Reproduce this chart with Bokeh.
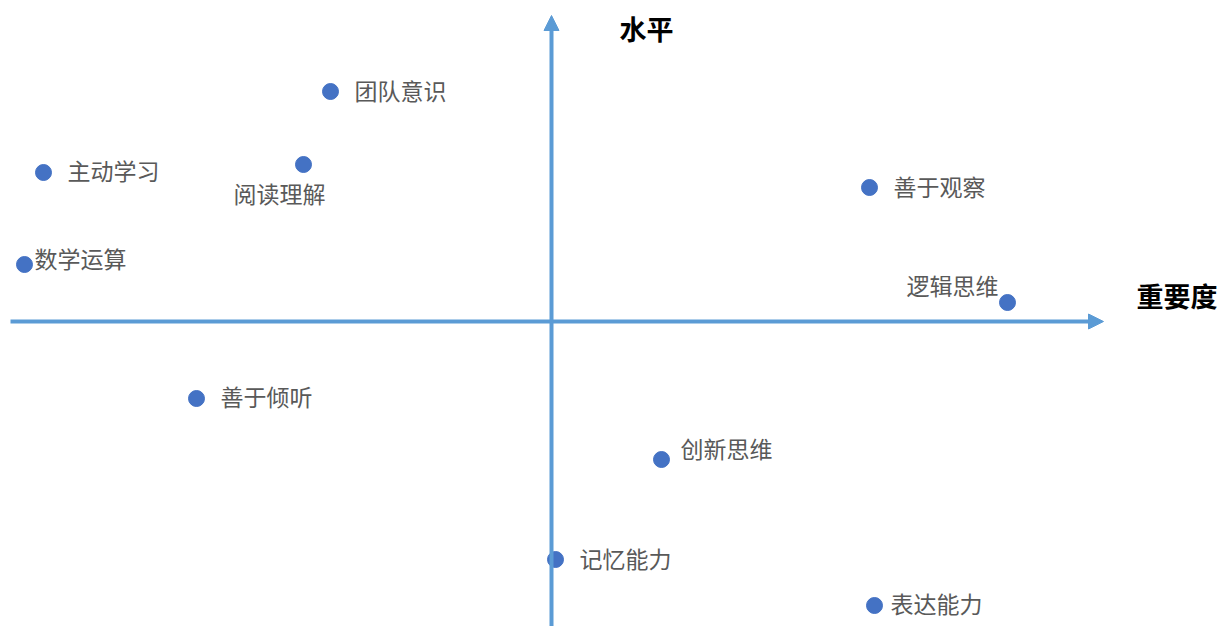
from bokeh.plotting import figure
from bokeh.models import ColumnDataSource, Arrow, NormalHead, Label
from bokeh.core.properties import value
from bokeh.embed import file_html
from bokeh.resources import INLINE

# Data
skills = ["团队意识", "主动学习", "阅读理解", "数学运算", "善于观察",
          "逻辑思维", "善于倾听", "创新思维", "记忆能力", "表达能力"]
importance = [-2.21, -5.08, -2.48, -5.27, 3.18, 4.56, -3.55, 1.10, 0.04, 3.23]
level = [2.30, 1.49, 1.57, 0.57, 1.34, 0.19, -0.77, -1.38, -2.38, -2.84]
x_title = "重要度"
y_title = "水平"

# label placement (style)
dx = [24, 24, -70, 10, 24, -101, 24, 19, 24, 16]
dy = [-2, -3, 28, -7, -2, -18, -3, -12, -2, -3]

W, H = 1221, 626
x0, x1 = -5.51, 6.70
y0, y1 = -3.05, 3.21

p = figure(width=W, height=H, x_range=(x0, x1), y_range=(y0, y1),
           output_backend="svg", toolbar_location=None,
           x_axis_type=None, y_axis_type=None, min_border=0)
p.grid.visible = False
p.outline_line_color = None
p.background_fill_color = "white"
p.border_fill_color = "white"

axis_color = "#5B9BD5"
p.add_layout(Arrow(end=NormalHead(size=15, fill_color=axis_color, line_color=axis_color),
                   x_start=-5.41, y_start=0, x_end=5.52, y_end=0,
                   line_color=axis_color, line_width=4))
p.add_layout(Arrow(end=NormalHead(size=15, fill_color=axis_color, line_color=axis_color),
                   x_start=0, y_start=y0, x_end=0, y_end=3.06,
                   line_color=axis_color, line_width=4))

src = ColumnDataSource(dict(x=importance, y=level, name=skills, dx=dx, dy=dy))
p.scatter("x", "y", source=src, size=16, color="#4472C4", line_color="#4472C4")
p.text("x", "y", text="name", source=src, x_offset="dx", y_offset="dy",
       text_font=value("Noto Sans CJK SC"), text_font_size="23px",
       text_color="#595959", text_baseline="middle", text_align="left")

p.add_layout(Label(x=0.68, y=2.93, text=y_title, text_font="Noto Sans CJK SC",
                   text_font_size="27px", text_font_style="bold", text_color="black",
                   text_baseline="middle"))
p.add_layout(Label(x=5.85, y=0.26, text=x_title, text_font="Noto Sans CJK SC",
                   text_font_size="27px", text_font_style="bold", text_color="black",
                   text_baseline="middle"))

open("out.html", "w").write(file_html(p, INLINE))
